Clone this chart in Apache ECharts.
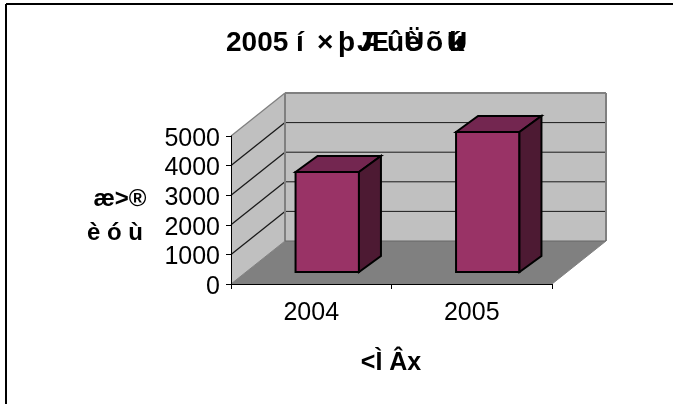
<!DOCTYPE html>
<html><head><meta charset="utf-8">
<script src="https://cdn.jsdelivr.net/npm/echarts@6/dist/echarts.min.js"></script>
<style>html,body{margin:0;padding:0;background:#fff}#c{width:673px;height:404px}</style>
</head><body><div id="c"></div>
<script>
var categories = ['2004', '2005'];
var values = [3380, 4730];
var gridTicks = [1000, 2000, 3000, 4000, 5000];
var titleParts = [
  ['2005', 226], ['í', 296], ['×', 317], ['þ', 338], ['J', 357], ['Æ', 361], ['û', 387], ['è', 405], ['Ü', 404], ['õ', 426], ['ú', 447], ['k', 449], ['U', 447]
];
var yTitleParts = [['æ>®', 120, 199], ['è ó ù', 115, 233]];
var xTitle = '<Ì Âx';

var FONT = '"Liberation Sans", Arial, sans-serif';
var WALL_DX = 54, WALL_DY = 43, BAR_SX = 16, BAR_SY = 12, BAR_DX = 22, BAR_DY = 16;

function poly(pts, fill, stroke, lw) {
  return { type: 'polygon', shape: { points: pts }, style: { fill: fill, stroke: stroke || null, lineWidth: lw || 0 } };
}
function seg(a, b, color, lw) {
  return { type: 'line', shape: { x1: a[0], y1: a[1], x2: b[0], y2: b[1] }, style: { stroke: color, lineWidth: lw, fill: null } };
}
function renderWalls(params, api) {
  var cs = params.coordSys;
  var l = cs.x, r = cs.x + cs.width, t = cs.y, b = cs.y + cs.height;
  var d = function (p) { return [p[0] + WALL_DX, p[1] - WALL_DY]; };
  var kids = [
    poly([[l, t], d([l, t]), d([l, b]), [l, b]], '#c0c0c0'),
    poly([d([l, t]), d([r, t]), d([r, b]), d([l, b])], '#c0c0c0'),
    poly([[l, b], [r, b], d([r, b]), d([l, b])], '#808080')
  ];
  gridTicks.forEach(function (v) {
    var y = api.coord([0, v])[1];
    var color = v === 5000 ? '#808080' : '#1a1a1a';
    kids.push(seg([l, y], d([l, y]), color, 1.3));
    kids.push(seg(d([l, y]), d([r, y]), color, v === 5000 ? 2 : 1));
  });
  kids.push(seg(d([l, t]), d([l, b]), '#808080', 2));
  kids.push(seg(d([r, t]), d([r, b]), '#808080', 2));
  kids.push(seg([l, b], d([l, b]), '#808080', 1));
  kids.push(seg(d([l, b]), d([r, b]), '#666666', 1));
  kids.push(seg([r, b], d([r, b]), '#808080', 1));
  return { type: 'group', children: kids };
}
function renderBar(params, api) {
  var idx = api.value(0), v = api.value(1);
  var w = api.size([1, 0])[0] * 0.395;
  var top = api.coord([idx, v]), base = api.coord([idx, 0]);
  var x0 = top[0] - w / 2 + BAR_SX, x1 = x0 + w, yT = top[1] - BAR_SY, yB = base[1] - BAR_SY;
  return {
    type: 'group', children: [
      poly([[x0, yT], [x1, yT], [x1, yB], [x0, yB]], '#993366', '#000', 2),
      poly([[x0, yT], [x0 + BAR_DX, yT - BAR_DY], [x1 + BAR_DX, yT - BAR_DY], [x1, yT]], '#732650', '#000', 2),
      poly([[x1, yT], [x1 + BAR_DX, yT - BAR_DY], [x1 + BAR_DX, yB - BAR_DY], [x1, yB]], '#4d1a33', '#000', 2)
    ]
  };
}
var texts = [];
titleParts.forEach(function (p) {
  texts.push({ type: 'text', left: p[1], top: 29, style: { text: p[0], fill: '#000', font: 'bold 28px ' + FONT } });
});
yTitleParts.forEach(function (p) {
  texts.push({ type: 'text', x: p[1], y: p[2], style: { text: p[0], fill: '#000', font: 'bold 24px ' + FONT, textAlign: 'center', textVerticalAlign: 'middle' } });
});
texts.push({ type: 'text', x: 391, y: 363, style: { text: xTitle, fill: '#000', font: 'bold 25px ' + FONT, textAlign: 'center', textVerticalAlign: 'middle' } });
texts.push({ type: 'line', shape: { x1: 6, y1: 4, x2: 673, y2: 4 }, style: { stroke: '#000', lineWidth: 2 } });
texts.push({ type: 'line', shape: { x1: 6, y1: 4, x2: 6, y2: 404 }, style: { stroke: '#000', lineWidth: 2 } });

var chart = echarts.init(document.getElementById('c'), null, { renderer: 'canvas' });
chart.setOption({
  animation: false,
  backgroundColor: '#fff',
  grid: { left: 231, right: 121, top: 136, bottom: 120 },
  xAxis: {
    type: 'category', data: categories, z: 5,
    axisLine: { lineStyle: { color: '#000', width: 1 } },
    axisTick: { show: true, length: 5, alignWithLabel: false, lineStyle: { color: '#000' } },
    axisLabel: { color: '#000', fontSize: 25, fontFamily: FONT, margin: 17 },
    splitLine: { show: false }
  },
  yAxis: {
    type: 'value', min: 0, max: 5000, interval: 1000, z: 5,
    axisLine: { show: true, lineStyle: { color: '#000', width: 1 } },
    axisTick: { show: true, length: 5, lineStyle: { color: '#000' } },
    axisLabel: {
      color: '#000', fontSize: 25, fontFamily: FONT, margin: 11,
      formatter: function (v) { return '{n|' + v + '}'; },
      rich: { n: { color: '#000', fontSize: 25, fontFamily: FONT, padding: [6, 0, 0, 0] } }
    },
    splitLine: { show: false }
  },
  series: [
    { type: 'custom', coordinateSystem: 'cartesian2d', renderItem: renderWalls, data: [[0, 0]], z: 1, silent: true, clip: false },
    { type: 'custom', coordinateSystem: 'cartesian2d', renderItem: renderBar, z: 3, clip: false,
      encode: { x: 0, y: 1 },
      data: values.map(function (v, i) { return [i, v]; }) }
  ],
  graphic: { elements: texts }
});
</script></body></html>
